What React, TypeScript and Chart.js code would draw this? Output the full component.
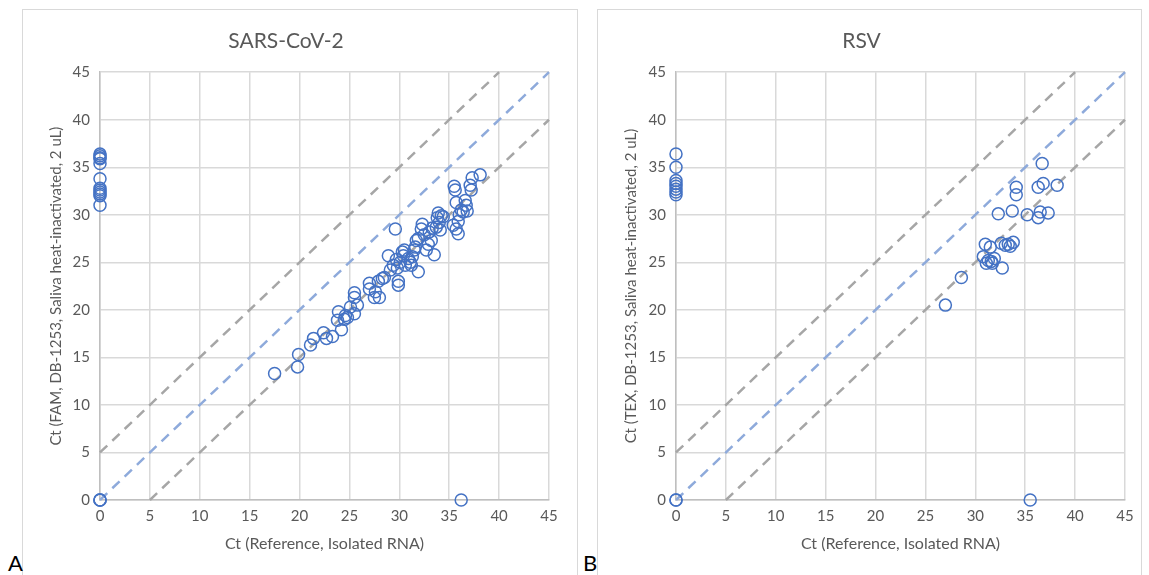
import React, { useEffect, useRef } from "react";
import { Chart, registerables } from "chart.js";

Chart.register(...registerables);

// SARS-CoV-2: reference Ct (isolated RNA) vs saliva Ct (FAM)
const sarsRefCt = [
  0, 0, 0, 0, 0, 0, 0, 0, 0, 0, 0, 0, 0, 0, 0,
  36.2,
  17.5, 19.8, 19.9, 21.1, 21.4, 22.4, 22.7, 23.3, 23.8, 23.9, 24.2, 24.5, 24.6, 24.8,
  25.1, 25.5, 25.5, 25.5, 25.8, 27.0, 27.0, 27.5, 27.6, 27.9, 28.0, 28.3, 28.5, 28.9,
  29.1, 29.4, 29.6, 29.7, 29.8, 29.9, 29.9, 30.1, 30.3, 30.4, 30.5, 30.6, 30.9, 31.1,
  31.2, 31.3, 31.5, 31.6, 31.7, 31.9, 31.9, 32.2, 32.3, 32.5, 32.7, 32.9, 33.0, 33.2,
  33.3, 33.5, 33.7, 33.8, 33.9, 34.0, 34.1, 34.2, 34.4, 35.4, 35.7, 35.9, 35.5, 35.6,
  35.7, 35.9, 36.0, 36.2, 36.4, 36.6, 36.7, 36.8, 37.1, 37.2, 37.3, 38.1,
];
const sarsSalivaCt = [
  36.4, 36.2, 36.0, 35.9, 35.4, 33.8, 32.8, 32.6, 32.4, 32.2, 32.0, 31.0, 0, 0, 0,
  0,
  13.3, 14.0, 15.3, 16.3, 17.0, 17.6, 17.0, 17.2, 18.9, 19.8, 17.9, 19.0, 19.4, 19.2,
  20.3, 21.8, 21.3, 19.6, 20.5, 22.2, 22.8, 21.3, 21.9, 23.0, 21.3, 23.3, 23.4, 25.7,
  24.2, 24.7, 28.5, 25.3, 24.4, 23.0, 22.6, 25.0, 26.1, 25.7, 26.3, 24.7, 25.4, 25.0,
  24.7, 25.6, 26.3, 26.6, 27.3, 27.5, 24.0, 28.5, 29.0, 27.9, 26.3, 26.9, 28.2, 27.3,
  28.6, 25.8, 28.7, 29.7, 30.2, 29.2, 28.4, 29.9, 29.8, 28.9, 28.5, 28.0, 33.0, 32.6,
  31.3, 29.3, 30.0, 30.5, 30.3, 31.5, 31.0, 30.4, 33.1, 32.6, 33.9, 34.2,
];

// RSV: reference Ct (isolated RNA) vs saliva Ct (TEX)
const rsvRefCt = [
  0, 0, 0, 0, 0, 0, 0, 0, 0, 0,
  35.5,
  27.0, 28.6, 32.3, 33.7, 34.1, 34.1, 35.2, 36.3, 36.5, 37.3, 36.3, 36.8, 36.7, 38.2,
  33.8, 33.0, 33.3, 33.5, 32.6, 31.0, 31.5, 30.8, 31.3, 31.1, 31.6, 31.9, 32.7, 31.7,
];
const rsvSalivaCt = [
  36.4, 35.0, 33.6, 33.3, 33.0, 32.7, 32.4, 32.1, 0, 0,
  0,
  20.5, 23.4, 30.1, 30.4, 32.9, 32.1, 30.0, 29.7, 30.3, 30.2, 32.9, 33.3, 35.4, 33.1,
  27.1, 26.8, 26.9, 26.7, 27.0, 26.9, 26.6, 25.6, 25.2, 24.9, 25.1, 25.4, 24.4, 24.9,
];

// Reference lines: identity and +/- 5 Ct
const identityX = [0, 45];
const identityY = [0, 45];
const upperX = [0, 40];
const upperY = [5, 45];
const lowerX = [5, 45];
const lowerY = [0, 40];

const axisMin = 0;
const axisMax = 45;
const axisStep = 5;

const FONT = "Lato, 'Liberation Sans', sans-serif";
const TEXT = "#595959";

const toPoints = (xs: number[], ys: number[]) => xs.map((x, i) => ({ x, y: ys[i] }));

type PanelProps = {
  left: number;
  top: number;
  width: number;
  height: number;
  title: string;
  yTitle: string;
  xs: number[];
  ys: number[];
  yAxisWidth: number;
  padRight: number;
};

function Panel(p: PanelProps) {
  const ref = useRef<HTMLCanvasElement | null>(null);
  useEffect(() => {
    if (!ref.current) return;
    const lineDs = (xs: number[], ys: number[], color: string) => ({
      type: "line" as const,
      data: toPoints(xs, ys),
      borderColor: color,
      borderWidth: 2.5,
      borderDash: [10, 7],
      pointRadius: 0,
      showLine: true,
      fill: false,
      order: 2,
      clip: false as any,
    });
    const chart = new Chart(ref.current, {
      type: "scatter",
      data: {
        datasets: [
          {
            data: toPoints(p.xs, p.ys),
            borderColor: "#4472c4",
            backgroundColor: "rgba(0,0,0,0)",
            borderWidth: 1.5,
            pointRadius: 6,
            pointHoverRadius: 6,
            order: 0,
            clip: false as any,
          },
          lineDs(upperX, upperY, "#a6a6a6"),
          lineDs(lowerX, lowerY, "#a6a6a6"),
          lineDs(identityX, identityY, "#8eaadb"),
        ] as any,
      },
      options: {
        animation: false,
        responsive: false,
        maintainAspectRatio: false,
        layout: { padding: { left: 0, right: p.padRight, top: 0, bottom: 0 } },
        plugins: {
          legend: { display: false },
          tooltip: { enabled: false },
          title: {
            display: true,
            text: p.title,
            color: TEXT,
            font: { family: FONT, size: 21, weight: "normal" as any },
            padding: { top: 19, bottom: 18 },
          },
        },
        scales: {
          x: {
            type: "linear",
            min: axisMin,
            max: axisMax,
            ticks: { stepSize: axisStep, color: TEXT, font: { family: FONT, size: 15 }, padding: 7 },
            grid: { color: "#d9d9d9", lineWidth: 1.5, drawTicks: false },
            border: { color: "#bfbfbf", width: 1.5 },
            title: {
              display: true,
              text: "Ct (Reference, Isolated RNA)",
              color: TEXT,
              font: { family: FONT, size: 16 },
              padding: { top: 0, bottom: 23 },
            },
            afterFit: (s: any) => {
              s.height = 76;
            },
          },
          y: {
            type: "linear",
            min: axisMin,
            max: axisMax,
            ticks: { stepSize: axisStep, color: TEXT, font: { family: FONT, size: 15 }, padding: 10 },
            grid: { color: "#d9d9d9", lineWidth: 1.5, drawTicks: false },
            border: { color: "#bfbfbf", width: 1.5 },
            title: {
              display: true,
              text: p.yTitle,
              color: TEXT,
              font: { family: FONT, size: 15 },
              padding: { top: 24, bottom: 0 },
            },
            afterFit: (s: any) => {
              s.width = p.yAxisWidth;
            },
          },
        },
      } as any,
    });
    return () => chart.destroy();
  }, []);
  return (
    <div
      style={{
        position: "absolute",
        left: p.left,
        top: p.top,
        width: p.width,
        height: p.height,
        border: "1px solid #d9d9d9",
        background: "#fff",
      }}
    >
      <canvas ref={ref} width={p.width} height={p.height} style={{ display: "block" }} />
    </div>
  );
}

export default function App() {
  return (
    <div style={{ position: "absolute", left: 0, top: 0, width: 1149, height: 575, overflow: "hidden", background: "#fff" }}>
      <Panel
        left={22}
        top={9}
        width={554}
        height={566}
        title="SARS-CoV-2"
        yTitle="Ct (FAM, DB-1253, Saliva heat-inactivated, 2 uL)"
        xs={sarsRefCt}
        ys={sarsSalivaCt}
        yAxisWidth={77}
        padRight={28}
      />
      <Panel
        left={597}
        top={9}
        width={543}
        height={566}
        title="RSV"
        yTitle="Ct (TEX, DB-1253, Saliva heat-inactivated, 2 uL)"
        xs={rsvRefCt}
        ys={rsvSalivaCt}
        yAxisWidth={78}
        padRight={16}
      />
      <div style={{ position: "absolute", left: 8, top: 551, fontFamily: FONT, fontSize: 22, color: "#000", lineHeight: "24px" }}>A</div>
      <div style={{ position: "absolute", left: 583, top: 551, fontFamily: FONT, fontSize: 22, color: "#000", lineHeight: "24px" }}>B</div>
    </div>
  );
}
